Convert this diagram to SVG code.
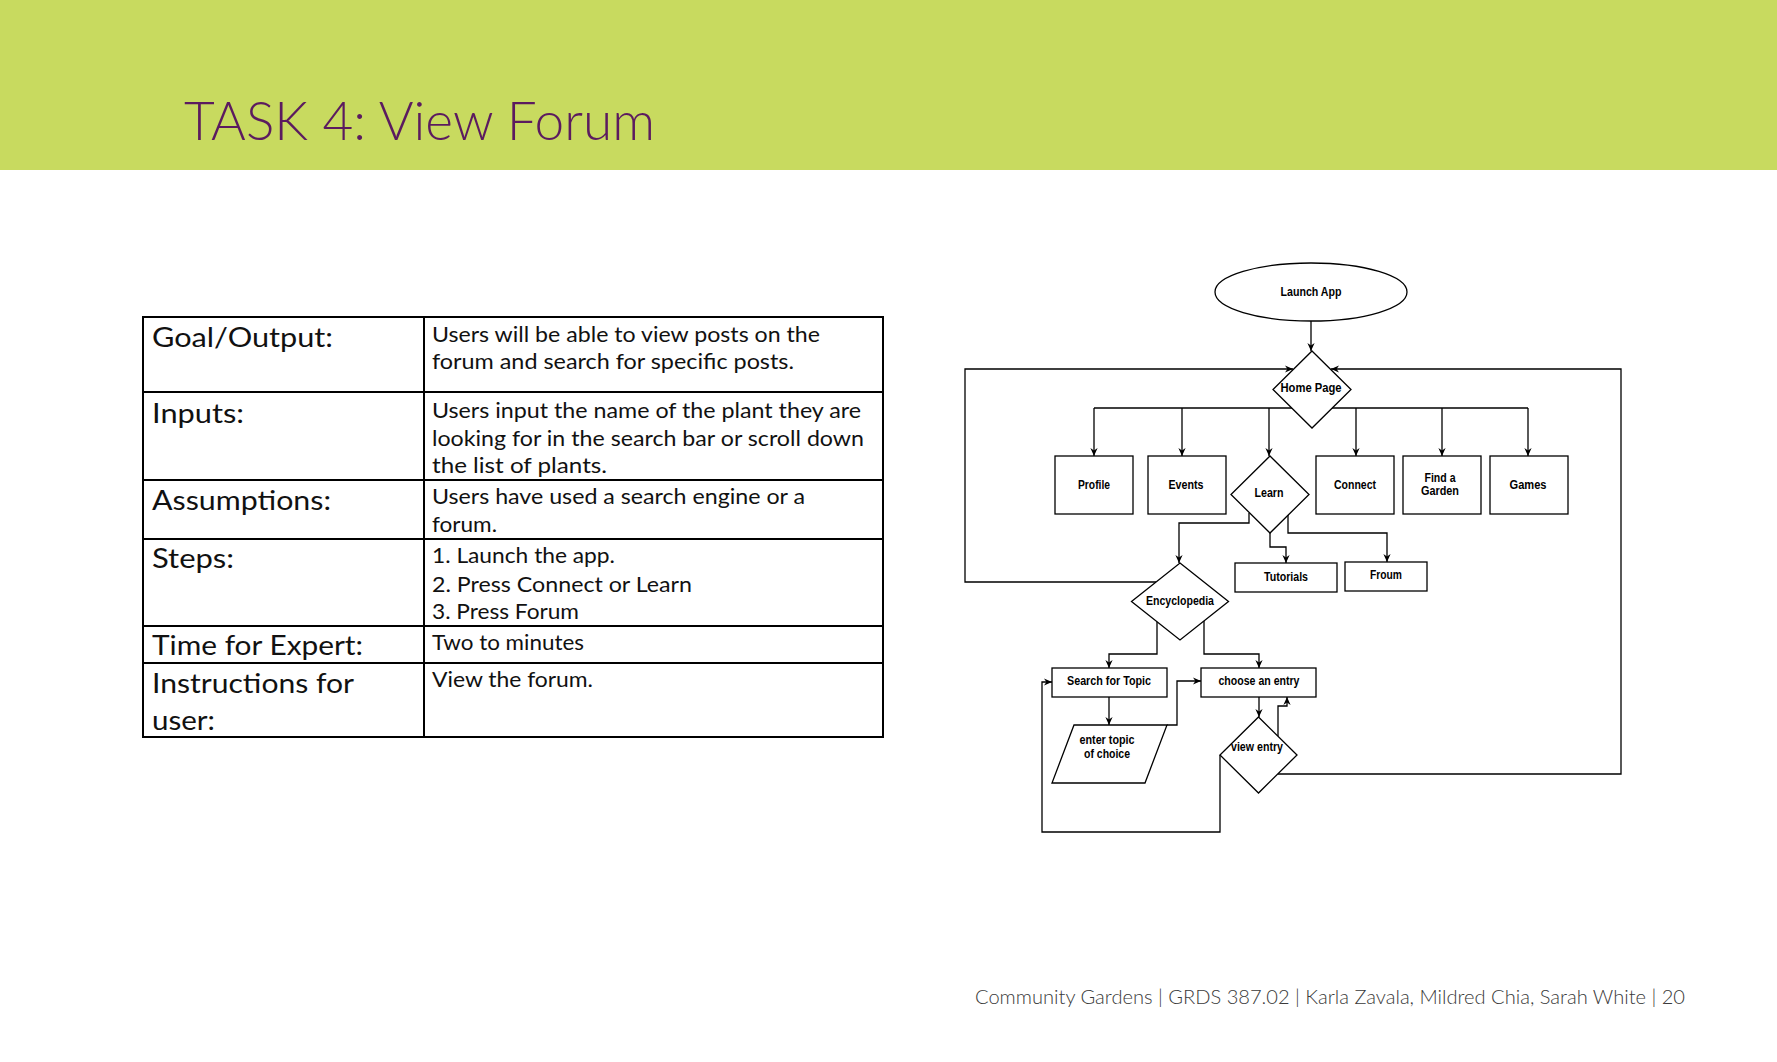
<svg xmlns="http://www.w3.org/2000/svg" width="1777" height="1062" viewBox="0 0 1777 1062">
<style>
.lbl{font-family:Lato,"Liberation Sans",sans-serif;font-size:27px;fill:#111}
.cell{font-family:Lato,"Liberation Sans",sans-serif;font-size:21px;fill:#111}
.fc{font-family:"Liberation Sans",Arial,sans-serif;font-weight:bold;font-size:12px;fill:#000;text-anchor:middle}
.shape{fill:#fff;stroke:#000;stroke-width:1.3}
.con{fill:none;stroke:#000;stroke-width:1.3}
.tbl{fill:none;stroke:#000;stroke-width:2}
</style>
<defs>
<marker id="arr" viewBox="0 0 10 10" refX="10" refY="5" markerWidth="8" markerHeight="8" markerUnits="userSpaceOnUse" orient="auto">
<path d="M0,0.5 L10,5 L0,9.5 L3,5 z" fill="#000"/>
</marker>
</defs>
<rect x="0" y="0" width="1777" height="170" fill="#c8da5f"/>
<text x="184" y="140" font-family="Lato,'Liberation Sans',sans-serif" font-weight="300" font-size="54" fill="#5b1b5f" textLength="471" lengthAdjust="spacingAndGlyphs">TASK 4: View Forum</text>

<g id="table">
<rect class="tbl" x="143" y="317" width="740" height="420"/>
<line class="tbl" x1="424" y1="317" x2="424" y2="737"/>
<line class="tbl" x1="143" y1="392" x2="883" y2="392"/>
<line class="tbl" x1="143" y1="480" x2="883" y2="480"/>
<line class="tbl" x1="143" y1="539" x2="883" y2="539"/>
<line class="tbl" x1="143" y1="626" x2="883" y2="626"/>
<line class="tbl" x1="143" y1="663" x2="883" y2="663"/>
<text class="lbl" x="152" y="347" textLength="181" lengthAdjust="spacingAndGlyphs">Goal/Output:</text>
<text class="lbl" x="152" y="423" textLength="92" lengthAdjust="spacingAndGlyphs">Inputs:</text>
<text class="lbl" x="152" y="510" textLength="179" lengthAdjust="spacingAndGlyphs">Assumptions:</text>
<text class="lbl" x="152" y="568" textLength="82" lengthAdjust="spacingAndGlyphs">Steps:</text>
<text class="lbl" x="152" y="655" textLength="211" lengthAdjust="spacingAndGlyphs">Time for Expert:</text>
<text class="lbl" x="152" y="693" textLength="202" lengthAdjust="spacingAndGlyphs">Instructions for</text>
<text class="lbl" x="152" y="730" textLength="63" lengthAdjust="spacingAndGlyphs">user:</text>
<text class="cell" x="432" y="342" textLength="388" lengthAdjust="spacingAndGlyphs">Users will be able to view posts on the</text>
<text class="cell" x="432" y="369" textLength="362" lengthAdjust="spacingAndGlyphs">forum and search for specific posts.</text>
<text class="cell" x="432" y="418" textLength="429" lengthAdjust="spacingAndGlyphs">Users input the name of the plant they are</text>
<text class="cell" x="432" y="446" textLength="432" lengthAdjust="spacingAndGlyphs">looking for in the search bar or scroll down</text>
<text class="cell" x="432" y="473" textLength="175" lengthAdjust="spacingAndGlyphs">the list of plants.</text>
<text class="cell" x="432" y="504" textLength="373" lengthAdjust="spacingAndGlyphs">Users have used a search engine or a</text>
<text class="cell" x="432" y="532" textLength="65" lengthAdjust="spacingAndGlyphs">forum.</text>
<text class="cell" x="432" y="563" textLength="183" lengthAdjust="spacingAndGlyphs">1. Launch the app.</text>
<text class="cell" x="432" y="592" textLength="260" lengthAdjust="spacingAndGlyphs">2. Press Connect or Learn</text>
<text class="cell" x="432" y="619" textLength="147" lengthAdjust="spacingAndGlyphs">3. Press Forum</text>
<text class="cell" x="432" y="650" textLength="152" lengthAdjust="spacingAndGlyphs">Two to minutes</text>
<text class="cell" x="432" y="687" textLength="161" lengthAdjust="spacingAndGlyphs">View the forum.</text>
</g>

<g id="connectors">
<path class="con" d="M1311,321 V351" marker-end="url(#arr)"/>
<path class="con" d="M1094,408 H1528"/>
<path class="con" d="M1094,408 V456" marker-end="url(#arr)"/>
<path class="con" d="M1182,408 V456" marker-end="url(#arr)"/>
<path class="con" d="M1269,408 V456" marker-end="url(#arr)"/>
<path class="con" d="M1356,408 V456" marker-end="url(#arr)"/>
<path class="con" d="M1442,408 V456" marker-end="url(#arr)"/>
<path class="con" d="M1528,408 V456" marker-end="url(#arr)"/>
<path class="con" d="M1156,582 H965 V369 H1293" marker-end="url(#arr)"/>
<path class="con" d="M1278,774 H1621 V369 H1331" marker-end="url(#arr)"/>
<path class="con" d="M1249,513 V523 H1179 V563" marker-end="url(#arr)"/>
<path class="con" d="M1270,533 V547 H1286 V563" marker-end="url(#arr)"/>
<path class="con" d="M1288,515 V533 H1387 V562" marker-end="url(#arr)"/>
<path class="con" d="M1157,622 V654 H1109 V668" marker-end="url(#arr)"/>
<path class="con" d="M1204,621 V654 H1259 V668" marker-end="url(#arr)"/>
<path class="con" d="M1109,697 V725" marker-end="url(#arr)"/>
<path class="con" d="M1167,725 H1177 V681 H1201" marker-end="url(#arr)"/>
<path class="con" d="M1259,697 V717" marker-end="url(#arr)"/>
<path class="con" d="M1278,736 V706 H1287 V697" marker-end="url(#arr)"/>
<path class="con" d="M1220,755 V832 H1042 V682 H1052" marker-end="url(#arr)"/>
</g>

<g id="launch-app">
<ellipse class="shape" cx="1311" cy="292" rx="96" ry="29"/>
<text class="fc" x="1311" y="296" textLength="61" lengthAdjust="spacingAndGlyphs">Launch App</text>
</g>
<g id="home-page">
<path class="shape" d="M1312,351 L1351,389.5 L1312,428 L1273,389.5 z"/>
<text class="fc" x="1311" y="392" textLength="61" lengthAdjust="spacingAndGlyphs">Home Page</text>
</g>
<g id="profile">
<rect class="shape" x="1055" y="456" width="78" height="58"/>
<text class="fc" x="1094" y="489" textLength="32" lengthAdjust="spacingAndGlyphs">Profile</text>
</g>
<g id="events">
<rect class="shape" x="1148" y="456" width="78" height="58"/>
<text class="fc" x="1186" y="489" textLength="35" lengthAdjust="spacingAndGlyphs">Events</text>
</g>
<g id="learn">
<path class="shape" d="M1270,456 L1309,494.5 L1270,533 L1231,494.5 z"/>
<text class="fc" x="1269" y="497" textLength="29" lengthAdjust="spacingAndGlyphs">Learn</text>
</g>
<g id="connect">
<rect class="shape" x="1316" y="456" width="78" height="58"/>
<text class="fc" x="1355" y="489" textLength="42" lengthAdjust="spacingAndGlyphs">Connect</text>
</g>
<g id="find-a-garden">
<rect class="shape" x="1403" y="456" width="78" height="58"/>
<text class="fc" x="1440" y="482" textLength="31" lengthAdjust="spacingAndGlyphs">Find a</text>
<text class="fc" x="1440" y="495" textLength="38" lengthAdjust="spacingAndGlyphs">Garden</text>
</g>
<g id="games">
<rect class="shape" x="1490" y="456" width="78" height="58"/>
<text class="fc" x="1528" y="489" textLength="37" lengthAdjust="spacingAndGlyphs">Games</text>
</g>
<g id="tutorials">
<rect class="shape" x="1235" y="563" width="102" height="29"/>
<text class="fc" x="1286" y="581" textLength="44" lengthAdjust="spacingAndGlyphs">Tutorials</text>
</g>
<g id="froum">
<rect class="shape" x="1345" y="562" width="82" height="29"/>
<text class="fc" x="1386" y="579" textLength="32" lengthAdjust="spacingAndGlyphs">Froum</text>
</g>
<g id="encyclopedia">
<path class="shape" d="M1180,563 L1228.5,601.5 L1180,640 L1131.5,601.5 z"/>
<text class="fc" x="1180" y="605" textLength="68" lengthAdjust="spacingAndGlyphs">Encyclopedia</text>
</g>
<g id="search-for-topic">
<rect class="shape" x="1052" y="668" width="115" height="29"/>
<text class="fc" x="1109" y="685" textLength="84" lengthAdjust="spacingAndGlyphs">Search for Topic</text>
</g>
<g id="choose-an-entry">
<rect class="shape" x="1201" y="668" width="115" height="29"/>
<text class="fc" x="1259" y="685" textLength="81" lengthAdjust="spacingAndGlyphs">choose an entry</text>
</g>
<g id="enter-topic">
<path class="shape" d="M1074,725 L1167,725 L1145,783 L1052,783 z"/>
<text class="fc" x="1107" y="744" textLength="55" lengthAdjust="spacingAndGlyphs">enter topic</text>
<text class="fc" x="1107" y="758" textLength="46" lengthAdjust="spacingAndGlyphs">of choice</text>
</g>
<g id="view-entry">
<path class="shape" d="M1258.5,717 L1297,755 L1258.5,793 L1220,755 z"/>
<text class="fc" x="1257" y="751" textLength="52" lengthAdjust="spacingAndGlyphs">view entry</text>
</g>

<text x="975" y="1004" font-family="Lato,'Liberation Sans',sans-serif" font-weight="300" font-size="19" fill="#3a3a3a" textLength="710" lengthAdjust="spacingAndGlyphs">Community Gardens | GRDS 387.02 | Karla Zavala, Mildred Chia, Sarah White  | 20</text>
</svg>
